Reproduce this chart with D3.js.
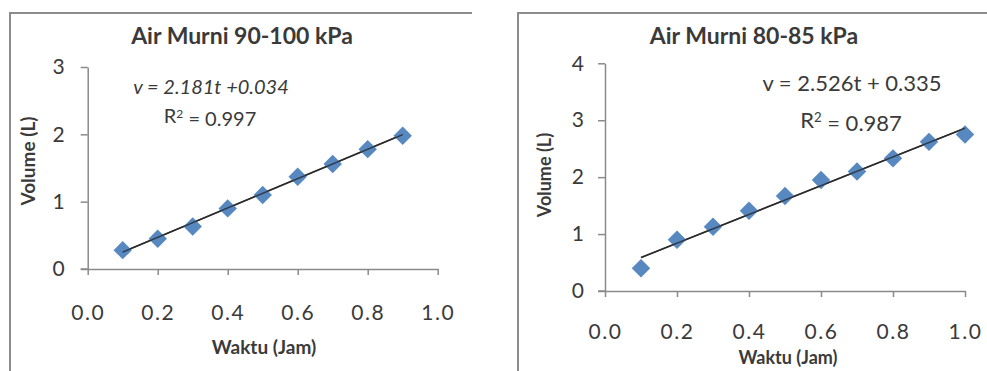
<!DOCTYPE html>
<html>
<head>
<meta charset="utf-8">
<script src="https://cdn.jsdelivr.net/npm/d3@7"></script>
<style>
  html, body { margin: 0; padding: 0; background: #fff; }
  svg { display: block; }
  text { font-family: Lato, "Open Sans", sans-serif; fill: #3a3a3a; }
</style>
</head>
<body>
<svg id="c" width="987" height="371"></svg>
<script>
// ---------- DATA ----------
const titles = ["Air Murni 90-100 kPa", "Air Murni 80-85 kPa"];
const xLabel = "Waktu (Jam)";
const yLabel = "Volume (L)";
const xTicks = [0.0, 0.2, 0.4, 0.6, 0.8, 1.0];
const yTicksA = [0, 1, 2, 3];
const yTicksB = [0, 1, 2, 3, 4];
const timeA = [0.1, 0.2, 0.3, 0.4, 0.5, 0.6, 0.7, 0.8, 0.9];
const volA  = [0.28, 0.45, 0.63, 0.90, 1.10, 1.37, 1.56, 1.78, 1.98];
const timeB = [0.1, 0.2, 0.3, 0.4, 0.5, 0.6, 0.7, 0.8, 0.9, 1.0];
const volB  = [0.40, 0.90, 1.13, 1.41, 1.67, 1.95, 2.10, 2.33, 2.62, 2.75];
const slopeA = 2.181, interceptA = 0.034, r2A = "0.997";
const slopeB = 2.526, interceptB = 0.335, r2B = "0.987";
const eqA = "v = 2.181t +0.034";
const eqB = "v = 2.526t + 0.335";

// ---------- DRAW ----------
const svg = d3.select("#c");
const frameColor = "#8c8c8c";
const axisColor = "#8a8a8a";
const markerColor = "#4a7ebb";

function panel(cfg) {
  const g = svg.append("g");
  // frame (top + left border)
  g.append("path")
    .attr("d", `M${cfg.frame.x},371 V${cfg.frame.y} H${cfg.frame.x2}`)
    .attr("fill", "none").attr("stroke", frameColor).attr("stroke-width", 2);

  const x = d3.scaleLinear().domain([0, 1]).range([cfg.x0, cfg.x1]);
  const y = d3.scaleLinear().domain([0, d3.max(cfg.yTicks)]).range([cfg.y0, cfg.y1]);

  // x axis
  const xa = g.append("g").attr("transform", `translate(0,${cfg.y0})`)
    .call(d3.axisBottom(x).tickValues(xTicks).tickFormat(d3.format(".1f"))
      .tickSize(6).tickSizeOuter(0).tickPadding(cfg.xPad));
  // y axis
  const ya = g.append("g").attr("transform", `translate(${cfg.x0},0)`)
    .call(d3.axisLeft(y).tickValues(cfg.yTicks).tickFormat(d3.format("d"))
      .tickSize(7).tickSizeOuter(0).tickPadding(cfg.yPad));
  [xa, ya].forEach(a => {
    a.select(".domain").attr("stroke", axisColor).attr("stroke-width", 1.5);
    a.selectAll(".tick line").attr("stroke", axisColor).attr("stroke-width", 1.5);
    a.selectAll(".tick text").attr("font-size", cfg.tickFont).attr("fill", "#3a3a3a")
      .attr("font-family", "Lato, sans-serif");
  });
  xa.selectAll(".tick text").style("letter-spacing", "1.5px");
  // extend x axis left to y tick length
  g.append("line").attr("x1", cfg.x0 - 7).attr("x2", cfg.x0)
    .attr("y1", cfg.y0).attr("y2", cfg.y0).attr("stroke", axisColor).attr("stroke-width", 1.5);

  // trendline
  const t0 = d3.min(cfg.t), t1 = d3.max(cfg.t);
  g.append("line")
    .attr("x1", x(t0)).attr("y1", y(cfg.slope * t0 + cfg.intercept))
    .attr("x2", x(t1)).attr("y2", y(cfg.slope * t1 + cfg.intercept))
    .attr("stroke", "#2b2b2b").attr("stroke-width", 1.6);

  // markers
  const sym = d3.symbol().type(d3.symbolSquare).size(cfg.mSize);
  g.selectAll("path.pt").data(cfg.t.map((t, i) => [t, cfg.v[i]])).join("path")
    .attr("class", "pt")
    .attr("d", sym)
    .attr("transform", d => `translate(${x(d[0])},${y(d[1])}) rotate(45)`)
    .attr("fill", markerColor).attr("opacity", 0.92);
  g.append("line")
    .attr("x1", x(t0)).attr("y1", y(cfg.slope * t0 + cfg.intercept))
    .attr("x2", x(t1)).attr("y2", y(cfg.slope * t1 + cfg.intercept))
    .attr("stroke", "#2b2b2b").attr("stroke-width", 1.4).attr("opacity", 0.8);

  // title
  g.append("text").attr("x", cfg.titleX).attr("y", 36).attr("dy", "0.35em")
    .attr("text-anchor", "middle").attr("font-weight", "bold")
    .attr("font-size", cfg.titleFont).attr("fill", "#1e1e1e").text(cfg.title);
  // axis titles
  g.append("text").attr("x", cfg.xlX).attr("y", cfg.xlY).attr("dy", "0.35em")
    .attr("text-anchor", "middle").attr("font-weight", "bold")
    .attr("font-size", cfg.labFont).attr("fill", "#222").text(xLabel);
  g.append("text").attr("transform", `translate(${cfg.ylX},${cfg.ylY}) rotate(-90)`)
    .attr("dy", "0.35em").attr("text-anchor", "middle").attr("font-weight", "bold")
    .attr("font-size", cfg.labFont).attr("fill", "#222").text(yLabel);
  // equation
  g.append("text").attr("x", cfg.eqX).attr("y", cfg.eqY).attr("dy", "0.35em")
    .attr("text-anchor", "middle").attr("font-size", cfg.eqFont)
    .attr("font-style", cfg.eqItalic ? "italic" : "normal").attr("fill", "#4a4a4a")
    .text(cfg.eq);
  const r = g.append("text").attr("x", cfg.rX).attr("y", cfg.rY).attr("dy", "0.35em")
    .attr("text-anchor", "middle").attr("font-size", cfg.eqFont).attr("fill", "#4a4a4a");
  r.append("tspan").text("R");
  r.append("tspan").attr("dy", "-0.4em").attr("font-size", cfg.eqFont * 0.6).text("2");
  r.append("tspan").attr("dy", "0.4em").text(" = " + cfg.r2);
}

panel({
  frame: {x: 10, y: 13, x2: 472},
  x0: 87.7, x1: 437.7, y0: 269, y1: 67, yTicks: yTicksA,
  xPad: 30, yPad: 16, tickFont: 21,
  t: timeA, v: volA, slope: slopeA, intercept: interceptA, mSize: 170,
  title: titles[0], titleX: 242, titleFont: 23,
  xlX: 264, xlY: 347, ylX: 28, ylY: 161, labFont: 19,
  eq: eqA, eqX: 211, eqY: 87, eqFont: 20, eqItalic: true,
  r2: r2A, rX: 210, rY: 116
});
panel({
  frame: {x: 518, y: 13, x2: 987},
  x0: 605, x1: 965, y0: 291, y1: 63.3, yTicks: yTicksB,
  xPad: 27, yPad: 14, tickFont: 21,
  t: timeB, v: volB, slope: slopeB, intercept: interceptB, mSize: 170,
  title: titles[1], titleX: 754, titleFont: 23,
  xlX: 788, xlY: 358, ylX: 545, ylY: 175, labFont: 18,
  eq: eqB, eqX: 852, eqY: 83, eqFont: 22, eqItalic: false,
  r2: r2B, rX: 851, rY: 120
});
</script>
</body>
</html>
